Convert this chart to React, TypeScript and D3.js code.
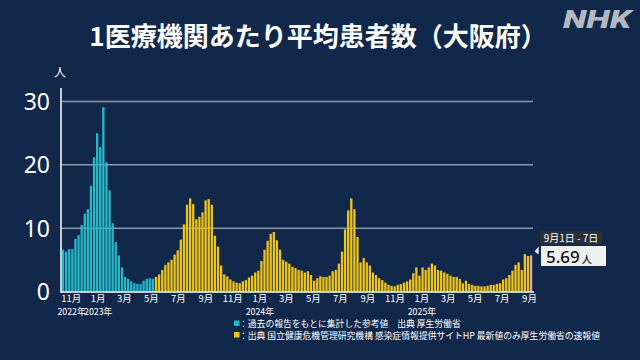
import React from "react";
import * as d3 from "d3";

// ---- data ----
const firstWeekStart = "2022-10-10";
const cyanValues = [
  6.6, 6.3, 6.7, 6.7, 8.3, 8.9, 10.5, 12.3, 13.0, 16.7, 21.2, 25.0, 22.8, 29.1, 20.4,
  16.0, 10.8, 7.8, 5.7, 3.8, 2.3, 2.0, 1.6, 1.3, 1.2, 1.2, 1.7, 2.0, 2.1, 2.0,
];
const yellowValues = [
  2.3, 2.7, 3.4, 4.2, 4.6, 5.0, 5.8, 6.5, 8.2, 10.6, 13.7, 14.7,
  13.8, 11.4, 11.8, 12.5, 14.4, 14.6,
  13.7, 8.8, 7.1, 4.1, 2.7, 2.4, 1.9, 1.6, 1.4, 1.3, 1.6, 1.8, 2.2, 2.5, 3.0, 3.3, 4.8, 6.6, 8.0, 9.1, 9.4,
  8.1, 6.6, 5.0, 4.7, 4.4, 3.9, 3.7, 3.4, 3.3, 3.0, 3.2, 2.6, 1.7, 2.1, 2.4, 2.3, 2.3, 2.5, 3.2, 3.4, 4.4, 6.3, 9.8, 12.8, 14.7,
  13.0, 8.6, 4.6, 5.3, 4.6, 4.1, 3.0, 2.6, 2.1, 1.8, 1.4, 1.05, 0.9, 0.8, 1.05, 1.15, 1.4, 1.6, 1.9, 2.9, 3.8,
  2.5, 3.8, 3.4, 3.8, 4.4, 4.1, 3.4, 3.3, 3.0, 2.8, 2.5,
  2.3, 2.3, 2.0, 1.3, 1.7, 1.2, 1.05, 0.9, 0.9, 0.8, 0.8, 0.9, 1.05, 1.05, 1.2, 1.3, 1.9, 2.1, 2.6, 3.3, 4.2, 4.6, 3.4, 5.9, 5.6, 5.69,
];
const yTicks = [0, 10, 20, 30];
const yearLabels = [
  { date: "2022-11-01", label: "2022年" },
  { date: "2023-01-01", label: "2023年" },
  { date: "2024-01-01", label: "2024年" },
  { date: "2025-01-01", label: "2025年" },
];
const titleText = "1医療機関あたり平均患者数（大阪府）";
const unitText = "人";
const latestRange = "9月1日 - 7日";
const latestValue = "5.69";
const legendTexts = [
  "：過去の報告をもとに集計した参考値　出典 厚生労働省",
  "：出典 国立健康危機管理研究機構 感染症情報提供サイトHP 最新値のみ厚生労働省の速報値",
];

const BG = "#12284a";
const CYAN = "#25b9c8";
const YELLOW = "#eec31a";
const PINK = "#e8a8ae";
const FONT = "'Noto Sans CJK JP', 'Noto Sans', sans-serif";

const parse = (s: string) => {
  const [y, m, d] = s.split("-").map(Number);
  return new Date(y, m - 1, d);
};

export default function App() {
  const start = parse(firstWeekStart);
  const allValues = [...cyanValues, ...yellowValues];
  const weeks = allValues.map((v, i) => ({
    date: d3.timeDay.offset(start, i * 7),
    value: v,
    kind: i < cyanValues.length ? "cyan" : i === allValues.length - 1 ? "latest" : "yellow",
  }));
  const endDate = d3.timeDay.offset(start, allValues.length * 7);

  const x = d3.scaleTime().domain([start, endDate]).range([61.5, 532.6]);
  const y = d3.scaleLinear().domain([0, 30]).range([291.5, 101.5]);
  const weekW = x(d3.timeDay.offset(start, 7)) - x(start);

  const monthTicks = d3.timeMonth.range(new Date(2022, 10, 1), new Date(2025, 9, 1), 2);

  const last = weeks[weeks.length - 1];
  const lastTop = y(last.value);

  return (
    <svg
      width={640}
      height={360}
      style={{ position: "fixed", left: 0, top: 0, display: "block" }}
      fontFamily={FONT}
    >
      <rect x={0} y={0} width={640} height={360} fill={BG} />

      {/* NHK logo */}
      <text
        x={563}
        y={28}
        fontSize={26}
        fontWeight={900}
        fontStyle="italic"
        fill="#b4b8c0"
        textLength={68}
        lengthAdjust="spacingAndGlyphs"
        fontFamily="Roboto, 'DejaVu Sans', sans-serif"
      >
        NHK
      </text>

      {/* title */}
      <text x={318} y={46} textAnchor="middle" fontSize={26} fontWeight={700} fill="#ffffff">
        {titleText}
      </text>

      {/* unit */}
      <text x={60} y={77} textAnchor="middle" fontSize={12} fill="#ffffff">
        {unitText}
      </text>

      {/* gridlines */}
      {yTicks.filter((t) => t > 0).map((t) => (
        <line key={t} x1={61} x2={533} y1={y(t)} y2={y(t)} stroke="#8d97a8" strokeWidth={1.5} />
      ))}

      {/* y tick labels */}
      {yTicks.map((t) => (
        <text key={t} x={50} y={y(t) + 8.5} textAnchor="end" fontSize={23} fill="#ffffff"
          fontFamily="'Noto Sans', sans-serif">
          {t}
        </text>
      ))}

      {/* bars */}
      {weeks.map((w, i) => (
        <rect
          key={i}
          x={x(w.date) + 0.4}
          y={y(w.value)}
          width={weekW - 0.8}
          height={y(0) - y(w.value)}
          fill={w.kind === "cyan" ? CYAN : w.kind === "latest" ? PINK : YELLOW}
        />
      ))}

      {/* axes */}
      <line x1={61} x2={61} y1={88} y2={292.5} stroke="#ffffff" strokeWidth={1.5} />
      <line x1={60.5} x2={534} y1={292} y2={292} stroke="#ffffff" strokeWidth={1.5} />

      {/* month labels */}
      {monthTicks.map((d, i) => (
        <text key={i} x={x(d)} y={302} textAnchor="middle" fontSize={9.5} fill="#ffffff">
          {`${d.getMonth() + 1}月`}
        </text>
      ))}
      {yearLabels.map((yl, i) => {
        const isFirst = i === 0;
        const px = isFirst ? x(parse(yearLabels[1].date)) - 12.5 : x(parse(yl.date));
        return (
          <text key={yl.label} x={px} y={314.5} textAnchor={isFirst ? "end" : "middle"} fontSize={8.8} fill="#ffffff">
            {yl.label}
          </text>
        );
      })}

      {/* callout */}
      <polygon
        points={`${x(last.date) + weekW + 2},${lastTop - 4} ${x(last.date) + weekW + 6},${lastTop - 9} ${x(last.date) + weekW + 6},${lastTop - 1}`}
        fill="#f0f0f0"
      />
      <rect x={540} y={231.5} width={62} height={13} fill="#2b2f37" />
      <text x={571} y={241.5} textAnchor="middle" fontSize={10} fill="#ffffff">
        {latestRange}
      </text>
      <rect x={541} y={246} width={65} height={20} fill="#f0f0f0" />
      <text x={546} y={262.5} fontSize={17} fill="#111111" fontFamily="'Noto Sans', sans-serif" fontWeight={500}>
        {latestValue}
        <tspan fontSize={10} fontFamily={FONT} dx={2}>{unitText}</tspan>
      </text>

      {/* legend */}
      {legendTexts.map((t, i) => (
        <g key={i}>
          <rect x={234} y={320.5 + i * 11.5} width={5.5} height={5.5} fill={i === 0 ? CYAN : YELLOW} />
          <text x={239} y={327 + i * 11.5} fontSize={8.8} fill="#ffffff">
            {t}
          </text>
        </g>
      ))}
    </svg>
  );
}
